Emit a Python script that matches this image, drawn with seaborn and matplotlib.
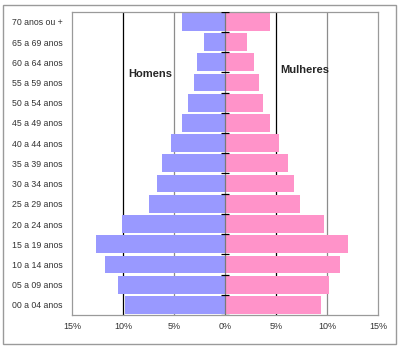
import matplotlib
matplotlib.use("Agg")
import matplotlib.pyplot as plt
from matplotlib.patches import Rectangle
import numpy as np
import pandas as pd
import seaborn as sns

faixas = ["70 anos ou +", "65 a 69 anos", "60 a 64 anos", "55 a 59 anos",
          "50 a 54 anos", "45 a 49 anos", "40 a 44 anos", "35 a 39 anos",
          "30 a 34 anos", "25 a 29 anos", "20 a 24 anos", "15 a 19 anos",
          "10 a 14 anos", "05 a 09 anos", "00 a 04 anos"]
homens = [4.2, 2.1, 2.7, 3.0, 3.6, 4.2, 5.3, 6.2, 6.7, 7.5, 10.1, 12.6, 11.8, 10.5, 9.8]
mulheres = [4.4, 2.2, 2.8, 3.3, 3.7, 4.4, 5.3, 6.2, 6.8, 7.4, 9.7, 12.1, 11.3, 10.2, 9.4]
xticks = [-15, -10, -5, 0, 5, 10, 15]
xticklabels = ["15%", "10%", "5%", "0%", "5%", "10%", "15%"]

df = pd.DataFrame({
    "faixa": faixas * 2,
    "valor": [-v for v in homens] + mulheres,
    "sexo": ["Homens"] * len(faixas) + ["Mulheres"] * len(faixas),
})

sns.set_style("white")
plt.rcParams["font.family"] = ["Liberation Sans", "DejaVu Sans"]

fig = plt.figure(figsize=(4.0, 3.48), dpi=100)
fig.patches.append(Rectangle((0.008, 0.012), 0.982, 0.975, transform=fig.transFigure,
                             fill=False, edgecolor="#9a9a9a", linewidth=1.0))
ax = fig.add_axes([0.18, 0.095, 0.765, 0.871])

# vertical reference lines
for xv, col in [(-10, "black"), (-5, "#8c8c8c"), (5, "black"), (10, "#8c8c8c")]:
    ax.axvline(xv, color=col, linewidth=0.9, zorder=0)

sns.barplot(data=df, x="valor", y="faixa", hue="sexo", order=faixas,
            hue_order=["Homens", "Mulheres"], dodge=False, width=0.88,
            palette={"Homens": "#9999FF", "Mulheres": "#FF93C9"},
            saturation=1, linewidth=0, ax=ax, legend=False, zorder=2)

ax.axvline(0, color="#7a7a7a", linewidth=0.9, zorder=3)
n = len(faixas)
ax.hlines(np.arange(n + 1) - 0.5, -0.35, 0.35, color="black", linewidth=0.9, zorder=4)

ax.set_xlim(-15, 15)
ax.set_ylim(n - 0.5, -0.5)
ax.set_xticks(xticks)
ax.set_xticklabels(xticklabels, fontsize=6.5, color="#333333")
ax.tick_params(axis="x", direction="out", length=3, width=0.8, color="black", pad=2)
ax.tick_params(axis="y", length=0, pad=7, labelsize=6.3, labelcolor="#333333")
ax.set_xlabel("")
ax.set_ylabel("")
for s in ax.spines.values():
    s.set_color("#9a9a9a")
    s.set_linewidth(0.9)

ax.text(-9.5, 2.6, "Homens", fontsize=8, fontweight="bold", ha="left", va="center")
ax.text(5.4, 2.4, "Mulheres", fontsize=8, fontweight="bold", ha="left", va="center")

fig.savefig("out.png", dpi=100)
